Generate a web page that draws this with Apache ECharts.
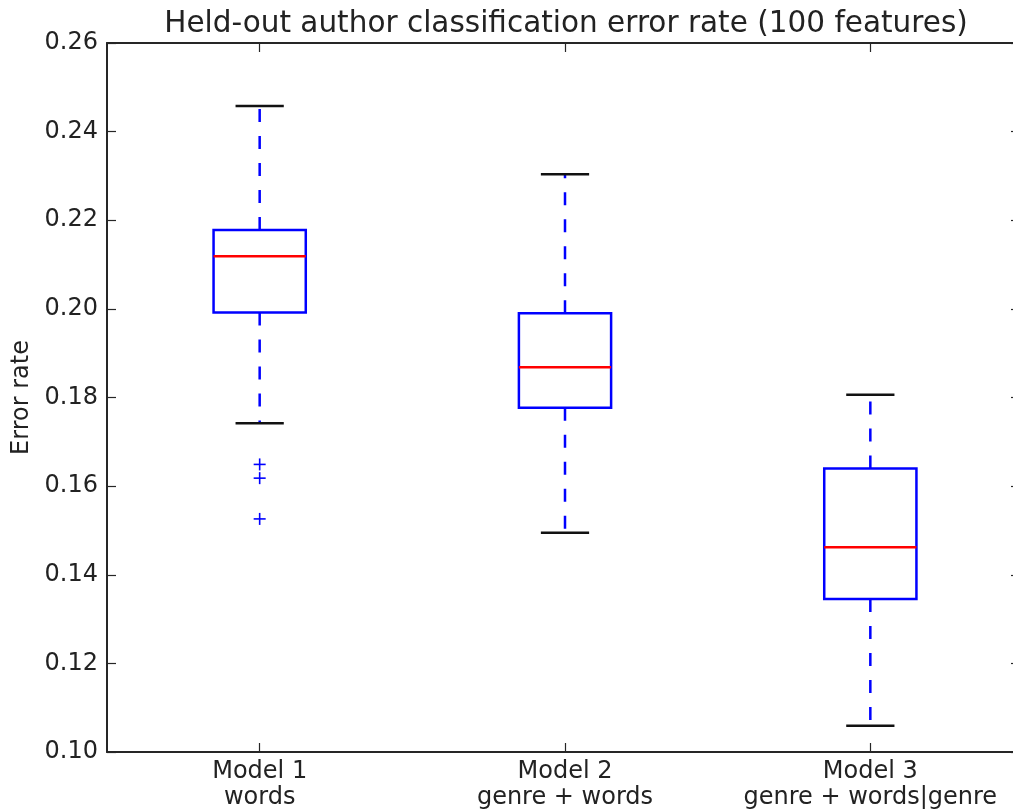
<!DOCTYPE html>
<html>
<head>
<meta charset="utf-8">
<script src="https://cdn.jsdelivr.net/npm/echarts@6/dist/echarts.min.js"></script>
<style>
  html, body { margin: 0; padding: 0; background: #fff; overflow: hidden; }
  #chart { width: 1040px; height: 809px; }
</style>
</head>
<body>
<div id="chart"></div>
<script>
const categories = ['Model 1\nwords', 'Model 2\ngenre + words', 'Model 3\ngenre + words|genre'];
const whiskerLow  = [0.1742, 0.1495, 0.1059];
const q1          = [0.1992, 0.1777, 0.1345];
const median      = [0.2119, 0.1868, 0.1462];
const q3          = [0.2178, 0.1990, 0.1640];
const whiskerHigh = [0.2458, 0.2304, 0.1806];
const outlierCat  = [0, 0, 0];
const outlierVal  = [0.1649, 0.1618, 0.1526];
const yTicks = [0.10, 0.12, 0.14, 0.16, 0.18, 0.20, 0.22, 0.24, 0.26];

const FONT = 'DejaVu Sans';
const TXT = '#222';
const AX = '#262626';

const boxData = categories.map((c, i) => [i, whiskerLow[i], q1[i], median[i], q3[i], whiskerHigh[i]]);
const outlierData = outlierCat.map((c, i) => [c, outlierVal[i]]);

function renderBox(params, api) {
  const x = api.value(0);
  const pLo = api.coord([x, api.value(1)]);
  const pQ1 = api.coord([x, api.value(2)]);
  const pMed = api.coord([x, api.value(3)]);
  const pQ3 = api.coord([x, api.value(4)]);
  const pHi = api.coord([x, api.value(5)]);
  const bw = api.size([1, 0])[0];
  const bh = bw * 0.151;
  const ch = bw * 0.079;
  const cx = pMed[0];
  const blue = '#0000ff';
  const dash = [13, 14];
  return {
    type: 'group',
    children: [
      { type: 'line', shape: { x1: cx, y1: pQ3[1], x2: cx, y2: pHi[1] },
        style: { stroke: blue, lineWidth: 2.5, lineDash: dash } },
      { type: 'line', shape: { x1: cx, y1: pQ1[1], x2: cx, y2: pLo[1] },
        style: { stroke: blue, lineWidth: 2.5, lineDash: dash } },
      { type: 'line', shape: { x1: cx - ch, y1: pHi[1], x2: cx + ch, y2: pHi[1] },
        style: { stroke: '#111', lineWidth: 2.5 } },
      { type: 'line', shape: { x1: cx - ch, y1: pLo[1], x2: cx + ch, y2: pLo[1] },
        style: { stroke: '#111', lineWidth: 2.5 } },
      { type: 'rect', shape: { x: cx - bh, y: pQ3[1], width: 2 * bh, height: pQ1[1] - pQ3[1] },
        style: { stroke: blue, fill: null, lineWidth: 2.5 } },
      { type: 'line', shape: { x1: cx - bh, y1: pMed[1], x2: cx + bh, y2: pMed[1] },
        style: { stroke: '#ff0000', lineWidth: 2.5 } }
    ]
  };
}

function renderOutlier(params, api) {
  const p = api.coord([api.value(0), api.value(1)]);
  const h = 6;
  return {
    type: 'group',
    children: [
      { type: 'line', shape: { x1: p[0] - h, y1: p[1], x2: p[0] + h, y2: p[1] },
        style: { stroke: '#0000ff', lineWidth: 1.6 } },
      { type: 'line', shape: { x1: p[0], y1: p[1] - h, x2: p[0], y2: p[1] + h },
        style: { stroke: '#0000ff', lineWidth: 1.6 } }
    ]
  };
}

const chart = echarts.init(document.getElementById('chart'), null, { renderer: 'canvas' });
const axisLine = { show: true, lineStyle: { color: AX, width: 2 } };
const tickInside = { show: true, inside: true, length: 9, lineStyle: { color: AX, width: 1.2 } };

chart.setOption({
  animation: false,
  backgroundColor: '#fff',
  title: {
    text: 'Held-out author classification error rate (100 features)',
    left: 561, textAlign: 'center', top: 4,
    textStyle: { fontFamily: FONT, fontSize: 29.5, fontWeight: 'normal', color: TXT }
  },
  grid: { left: 107, top: 43, width: 916, height: 709, containLabel: false, outerBoundsMode: 'none' },
  xAxis: [
    { type: 'category', data: categories, position: 'bottom', boundaryGap: true,
      axisLine: axisLine,
      axisTick: Object.assign({ alignWithLabel: true, interval: 0 }, tickInside),
      axisLabel: { interval: 0, fontFamily: FONT, fontSize: 24, color: TXT, margin: 7, lineHeight: 26 },
      splitLine: { show: false } },
    { type: 'category', data: categories, position: 'top', boundaryGap: true,
      axisLine: axisLine,
      axisTick: Object.assign({ alignWithLabel: true, interval: 0 }, tickInside),
      axisLabel: { show: false }, splitLine: { show: false } }
  ],
  yAxis: [
    { type: 'value', min: yTicks[0], max: yTicks[yTicks.length - 1], interval: 0.02,
      position: 'left',
      name: 'Error rate', nameLocation: 'middle', nameGap: 68, nameRotate: 90,
      nameTextStyle: { fontFamily: FONT, fontSize: 24, color: TXT },
      axisLine: axisLine, axisTick: tickInside,
      axisLabel: { fontFamily: FONT, fontSize: 24, color: TXT, margin: 9,
        formatter: v => v.toFixed(2) },
      splitLine: { show: false } },
    { type: 'value', min: yTicks[0], max: yTicks[yTicks.length - 1], interval: 0.02,
      position: 'right',
      axisLine: { show: false }, axisTick: { show: true, inside: true, length: 12, lineStyle: { color: AX, width: 1.2 } },
      axisLabel: { show: false }, splitLine: { show: false } }
  ],
  series: [
    { type: 'custom', renderItem: renderBox, data: boxData, xAxisIndex: 0, yAxisIndex: 0,
      encode: { x: 0, y: [1, 2, 3, 4, 5] }, clip: false, z: 3 },
    { type: 'custom', renderItem: renderOutlier, data: outlierData, xAxisIndex: 0, yAxisIndex: 0,
      encode: { x: 0, y: 1 }, clip: false, z: 3 }
  ]
});
</script>
</body>
</html>
